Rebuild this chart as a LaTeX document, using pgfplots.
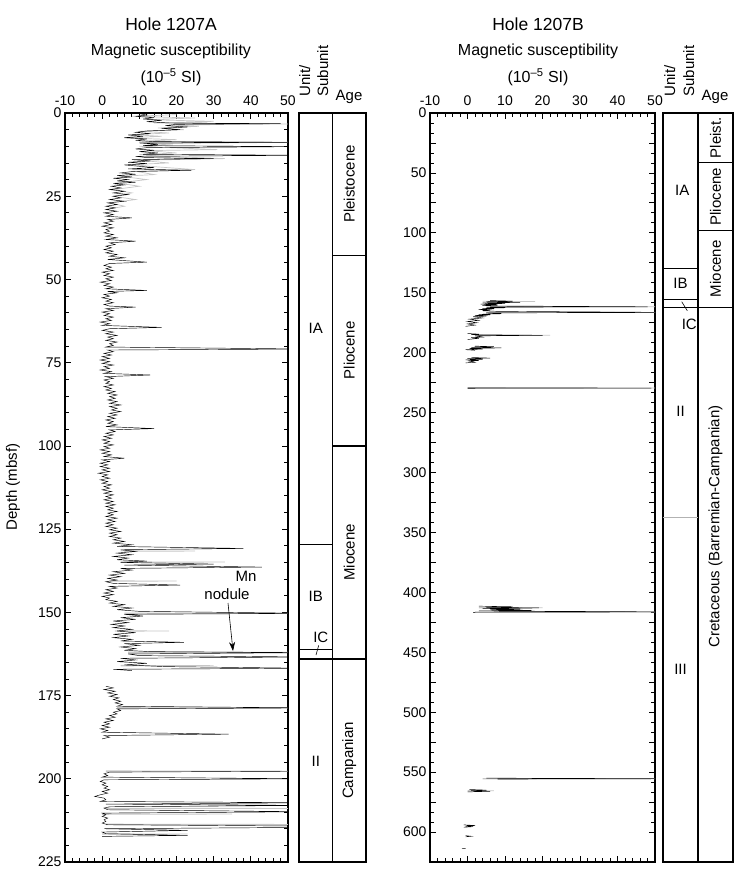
\documentclass[border=0pt]{standalone}
\usepackage{pgfplots}
\pgfplotsset{compat=1.18}
\usepackage{fontspec}
\setmainfont{Liberation Sans}
\usetikzlibrary{arrows.meta}

\pgfplotstableread{
d v
0.2 10
0.6 12
1.0 9
1.4 14
1.8 11
2.2 16
2.6 12
3.0 18
3.2 48
3.4 20
3.8 17
4.2 23
4.6 16
5.0 21
5.4 12
5.8 9
6.2 13
6.6 7
7.0 11
7.4 6
7.8 12
8.2 9
8.6 14
8.8 50
9.0 10
9.4 15
9.8 11
10.1 52
10.4 12
10.8 9
11.2 14
11.6 10
12.0 15
12.4 11
12.7 55
13.0 9
13.4 12
13.7 30
14.0 8
14.4 13
14.8 7
15.2 12
15.6 6
16.0 10
16.4 14
16.8 7
17.2 24
17.6 8
18.0 5
18.4 9
18.8 4
19.2 8
19.6 3
20.0 7
20.4 4
20.8 9
21.2 3
21.6 6
22.0 2.5
22.5 5
23.0 2
23.5 6
24.0 3
24.5 7
25.0 3
25.5 5
26.0 2
26.5 6
27.0 1.5
27.5 4
28.0 1
28.5 3.5
29.0 1
29.5 4
30.0 0.5
30.5 3
31 1
31.5 8
32 1.5
32.5 3
33 0.5
33.5 2.5
34 0
34.5 3
35 1
35.5 2
36 0.5
36.5 3
37 1
37.5 4
38 1
38.5 9
39 2
39.5 3.5
40 1
40.5 2.5
41 0.5
41.5 3
42 1
42.5 4
43 2
43.5 6
44 1.5
44.8 12
45.2 2
45.8 0.5
46.3 2.5
46.8 1
47.3 3
47.8 0
48.3 2
48.8 0.5
49.3 3
49.8 1
50.3 2.5
50.8 -0.5
51.3 2
51.8 0.5
52.3 3
52.8 1
53.3 12
53.6 1.5
54 4
54.5 0.5
55 2
55.5 0
56 2.5
56.5 1
57 3
57.5 0.5
58 2
58.3 9
58.8 1
59.3 3
59.8 0
60.3 2
60.8 0.5
61.3 3
61.8 1
62.3 2.5
62.8 -0.5
63.3 2
63.8 0
64.4 16
64.8 2
65.3 0
65.8 3
66.3 1
66.8 4
67.3 1.5
67.8 3
68.3 1
68.8 4
69.3 2
69.8 3
70.3 1
70.9 55
71.2 1.5
71.7 3
72.2 0.5
72.7 2.5
73.2 0
73.7 2
74.2 -0.5
74.7 2
75.2 0
75.7 3
76.2 0.5
76.7 2
77.2 -0.5
77.7 2.5
78.2 0.5
78.7 13
79.2 1
79.7 3
80.2 0.5
80.7 2
81.2 1
81.7 3
82.2 0.5
82.7 2.5
83.2 1
83.7 3.5
84.2 1.5
84.7 4
85.2 2
85.7 3.5
86.2 1.5
86.7 4
87.2 2
87.7 5
88.2 2
88.7 4
89.2 2.5
89.7 5
90.2 2
90.7 4
91.2 1.5
91.7 3.5
92.2 1
92.7 3
93.2 1.5
93.7 4
94.2 1
94.8 14
95.2 2
95.7 3.5
96.2 1
96.7 3
97.2 0.5
97.7 2.5
98.2 0
98.7 2
99.2 0.5
99.7 3
100.2 0.5
100.7 2
101.2 -0.5
101.7 2
102.2 0
102.7 2.5
103.2 0.5
103.7 6
104.2 0
104.7 2
105.2 -0.5
105.7 1.5
106.2 -0.5
106.7 2
107.2 0
107.7 2
108.2 -1
108.7 1.5
109.2 0
109.7 2
110.2 -0.5
110.7 1.5
111.2 0
111.7 2.5
112.2 0.5
112.7 2
113.2 0
113.7 2.5
114.2 0.5
114.7 3
115.2 1
115.7 2.5
116.2 0.5
116.7 3
117.2 1
117.7 3.5
118.2 1
118.7 3
119.2 1.5
119.7 4
120.2 1.5
120.7 3
121.2 1
121.7 4
122.2 1.5
122.7 3.5
123.2 1
123.7 3
124.2 1
124.7 4
125.2 2
125.7 5
126.2 2
126.7 4
127.2 2
127.7 5
128.2 3
128.7 6
129.2 3
129.7 8
130.2 4
130.8 38
131.2 5
131.7 9
132.2 4
132.7 8
133.2 3
133.7 7
134.2 4
134.6 12
135.0 5
135.5 30
135.8 6
136.4 43
136.8 5
137.3 8
137.8 3
138.3 6
138.8 2
139.3 5
139.8 1.5
140.3 4
140.8 1
141.3 3
141.8 21
142.2 2
142.7 4
143.2 1
143.7 3
144.2 0.5
144.7 3
145.2 0
145.7 2
146.2 1
146.7 4
147.2 2
147.7 6
148.2 3
148.7 8
149.2 4
149.7 10
150.3 55
150.6 6
151.1 11
151.6 5
152.1 9
152.6 3
153.1 7
153.6 2.5
154.1 6
154.6 3
155.1 8
155.6 4
156.1 9
156.6 3
157.1 7
157.6 3
158.1 8
158.6 5
159.0 22
159.4 6
159.9 10
160.4 5
160.9 9
161.4 6
161.8 13
162.1 55
162.5 7
163.0 10
163.4 55
163.8 5
164.3 9
164.8 4
165.3 12
165.8 6
166.3 17
166.8 55
167.1 3
167.5 8
nan nan
172.2 1
172.7 3
173.2 0.5
173.7 3.5
174.2 1.5
174.7 4
175.2 2
175.7 4.5
176.2 3
176.7 5
177.2 3.5
177.7 5.5
178.2 4
178.7 55
179.0 4
179.5 5
180.0 3
180.5 4
181.0 2
181.5 3.5
182.0 1
182.5 3
183.0 0.5
183.5 2
184.0 0
184.5 2
185.0 -0.5
185.5 1.5
186.0 0
186.6 34
187.0 0.5
187.5 2
188.0 0
nan nan
197.7 55
198.0 2
198.5 0.5
199.0 1.5
199.5 0
200.0 55
200.3 0.5
200.8 -0.5
201.3 1
201.8 0
202.3 1.5
202.8 0.5
203.3 2
203.8 0
204.3 1.5
204.8 -0.5
205.3 -2
205.8 0.5
206.3 1
206.8 -0.5
207.2 55
207.6 1
208.0 55
208.4 2
208.8 0.5
209.3 1.5
209.9 55
210.3 0
210.8 1
211.3 0
211.8 1.5
212.3 0.5
212.8 1
213.3 0
213.8 1.5
214.2 55
214.6 55
215.0 0.5
215.5 23
216.0 0
216.5 1
217.0 23
217.3 0
}\holeAblack

\pgfplotstableread{
d v
0.5 20
1.0 8
1.5 25
2.0 12
2.5 30
3.0 14
3.3 50
3.6 18
4.0 26
4.5 15
5.0 22
5.5 10
6.0 18
6.5 8
7.0 16
7.5 6
8.0 20
8.5 10
8.8 52
9.2 12
9.6 19
10.0 10
11.0 31
11.3 12
12.0 20
12.5 10
13.0 16
13.7 33
14.2 10
15.0 18
15.5 8
16.2 15
17.0 25
17.5 9
18.5 14
19.0 5
20.0 12
21.0 4
22.0 10
23.0 3
24.0 8
25.0 3
26.0 9
27.0 2
28.0 6
29.0 1
nan nan
131.5 5
131.6 25
131.7 6
nan nan
134.8 5
134.9 33
135.0 5
nan nan
140.5 2
140.6 20
140.7 2
nan nan
150.2 6
150.3 55
150.4 6
nan nan
155.5 4
155.6 18
155.7 4
nan nan
161.9 7
162.0 55
162.1 7
nan nan
165.9 5
166.0 30
166.1 5
nan nan
178.6 4
178.7 55
178.8 4
nan nan
197.6 1
197.7 55
197.8 1
nan nan
208.8 1
208.9 55
209.0 1
nan nan
210.5 0
210.6 35
210.7 0
nan nan
213.6 1
213.7 55
213.8 1
nan nan
216.5 0
216.6 23
216.7 0
}\holeAgray

\pgfplotstableread{
d v
156.5 6
157 12
157.5 5
158 14
158.5 4
159 10
159.5 3.5
160 8
160.5 4
161 7
161.7 48
162 5
162.5 10
163 4
163.5 7
164 3
164.5 6
165 4
165.5 8
166.4 55
166.8 5
167.5 9
168 3
168.5 6
169 2
169.5 5
170 1.5
171 4
172 0.5
173 3
174 0
175 2.5
176 0
177 2
178 -0.5
nan nan
184 0
184.5 3
185 1
185.5 20
186 2
187 4
187.5 1
188 3
189 0
nan nan
194.5 2
195 7
195.5 1
196 9
196.5 0.5
197 4
197.5 -0.5
198 2
nan nan
204 1
204.5 6
205 0
205.5 4
206 -0.5
206.5 3
207 0.5
208 2
208.5 -0.5
nan nan
229.3 0
229.5 49
229.7 0
nan nan
411.5 3
412 12
412.5 5
413 19
413.5 4
414 14
414.5 6
415 17
415.5 3
416.3 55
416.6 2
417 1.5
nan nan
555 5
555.5 55
555.8 8
nan nan
564.5 0.5
565 5
565.5 1
566 6
566.5 0
nan nan
594 -1
594.5 2
595 -0.5
595.5 1.5
596 -1
nan nan
603 -0.5
603.5 1
604 -0.5
nan nan
613.5 -1.5
613.7 -0.5
}\holeBblack

\pgfplotstableread{
d v
157.0 4
157.3 18
157.6 5
nan nan
161.5 6
161.7 52
161.9 6
nan nan
166.2 5
166.4 55
166.6 5
nan nan
185.3 2
185.5 22
185.7 2
nan nan
229.3 0
229.5 55
229.7 0
nan nan
412.5 3
412.8 20
413.1 3
nan nan
416.1 2
416.3 55
416.5 2
nan nan
555.2 4
555.5 55
555.7 4
nan nan
565.3 0
565.5 7
565.7 0
}\holeBgray

\pgfplotsset{
  magax/.style={scale only axis, anchor=north west, y dir=reverse,
    xmin=-10, xmax=50, xtick={-10,0,...,50},
    xticklabels={-10,0,10,20,30,40,50},
    minor x tick num=4, xticklabel pos=upper,
    tick align=inside, major tick length=6pt, minor tick length=4pt,
    axis line style={line width=1.3pt},
    every tick/.style={black, line width=0.8pt},
    tick label style={font=\fontsize{14}{16}\selectfont},
    xticklabel style={yshift=3.5pt},
    /pgf/number format/assume math mode=true,
    unbounded coords=jump},
  colax/.style={scale only axis, anchor=north west, y dir=reverse,
    xmin=0, xmax=2, ticks=none, clip=false,
    axis line style={line width=1.4pt}}
}

\begin{document}
\begin{tikzpicture}
\useasboundingbox (0pt,0pt) rectangle (746pt,-872pt);

% ---------- Hole 1207A ----------
\node[font=\fontsize{17.5}{20}\selectfont] at (171pt,-24pt) {Hole 1207A};
\node[font=\fontsize{16}{18}\selectfont] at (171pt,-51pt) {Magnetic susceptibility};
\node[font=\fontsize{16}{18}\selectfont] at (171pt,-77pt) {(10\textsuperscript{\textendash 5} SI)};
\node[rotate=90, font=\fontsize{15}{17}\selectfont] at (13pt,-487pt) {Depth (mbsf)};

\begin{axis}[magax, at={(65pt,-113pt)}, width=223pt, height=749pt,
  ymin=0, ymax=225, ytick={0,25,...,225}, minor y tick num=4]
\addplot[gray!45, line width=0.7pt] table[x=v, y=d] {\holeAgray};
\addplot[black, line width=0.45pt] table[x=v, y=d] {\holeAblack};
\end{axis}

\node[font=\fontsize{15}{17}\selectfont] at (246pt,-576pt) {Mn};
\node[font=\fontsize{15}{17}\selectfont] at (227pt,-594pt) {nodule};
\draw[line width=0.6pt, -{Stealth[length=9pt, width=6pt]}] (228pt,-603pt) -- (233pt,-651pt);

\node[rotate=90, anchor=base west, font=\fontsize{15}{17}\selectfont] at (310pt,-100pt) {Unit/};
\node[rotate=90, anchor=base west, font=\fontsize{15}{17}\selectfont] at (328pt,-100pt) {Subunit};
\node[font=\fontsize{15}{17}\selectfont] at (349pt,-97pt) {Age};

\begin{axis}[colax, at={(299pt,-113pt)}, width=67pt, height=749pt, ymin=0, ymax=225]
\draw[line width=1.4pt] (axis cs:1,0) -- (axis cs:1,225);
\draw[line width=1.2pt] (axis cs:0,129.5) -- (axis cs:1,129.5);
\draw[line width=1.2pt] (axis cs:0,161.1) -- (axis cs:1,161.1);
\draw[line width=1.2pt] (axis cs:0,164.0) -- (axis cs:2,164.0);
\draw[line width=1.2pt] (axis cs:1,42.7) -- (axis cs:2,42.7);
\draw[line width=1.2pt] (axis cs:1,100) -- (axis cs:2,100);
\begin{scope}[font=\fontsize{15}{17}\selectfont]
\node at (axis cs:0.5,64.8) {IA};
\node at (axis cs:0.5,145.3) {IB};
\node at (axis cs:0.65,157.5) {IC};
\node at (axis cs:0.5,194.8) {II};
\node[rotate=90] at (axis cs:1.5,21.3) {Pleistocene};
\node[rotate=90] at (axis cs:1.5,71.3) {Pliocene};
\node[rotate=90] at (axis cs:1.5,132) {Miocene};
\node[rotate=90] at (axis cs:1.5,194.5) {Campanian};
\end{scope}
\end{axis}
\draw[line width=0.6pt] (316pt,-655pt) -- (318.7pt,-645.3pt);

% ---------- Hole 1207B ----------
\node[font=\fontsize{17.5}{20}\selectfont] at (538pt,-24pt) {Hole 1207B};
\node[font=\fontsize{16}{18}\selectfont] at (538pt,-51pt) {Magnetic susceptibility};
\node[font=\fontsize{16}{18}\selectfont] at (538pt,-77pt) {(10\textsuperscript{\textendash 5} SI)};

\begin{axis}[magax, at={(430pt,-113pt)}, width=225pt, height=749pt,
  ymin=0, ymax=625, ytick={0,50,...,600}, minor y tick num=5,
  extra y ticks={25,75,...,625}, extra y tick labels={},
  extra y tick style={major tick length=6pt}]
\addplot[gray!45, line width=0.7pt] table[x=v, y=d] {\holeBgray};
\addplot[black, line width=0.45pt] table[x=v, y=d] {\holeBblack};
\end{axis}

\node[rotate=90, anchor=base west, font=\fontsize{15}{17}\selectfont] at (675pt,-100pt) {Unit/};
\node[rotate=90, anchor=base west, font=\fontsize{15}{17}\selectfont] at (694pt,-100pt) {Subunit};
\node[font=\fontsize{15}{17}\selectfont] at (715pt,-97pt) {Age};

\begin{axis}[colax, at={(663pt,-113pt)}, width=70pt, height=749pt, ymin=0, ymax=625]
\draw[line width=1.4pt] (axis cs:1,0) -- (axis cs:1,625);
\draw[line width=1.2pt] (axis cs:0,129.6) -- (axis cs:1,129.6);
\draw[line width=1.2pt] (axis cs:0,155.3) -- (axis cs:1,155.3);
\draw[line width=1.2pt] (axis cs:0,162) -- (axis cs:2,162);
\draw[line width=0.5pt, gray!60] (axis cs:0,337) -- (axis cs:1,337);
\draw[line width=1.2pt] (axis cs:1,41.5) -- (axis cs:2,41.5);
\draw[line width=1.2pt] (axis cs:1,98.2) -- (axis cs:2,98.2);
\begin{scope}[font=\fontsize{15}{17}\selectfont]
\node at (axis cs:0.55,64.8) {IA};
\node at (axis cs:0.5,142.5) {IB};
\node at (axis cs:0.75,176) {IC};
\node at (axis cs:0.5,249) {II};
\node at (axis cs:0.5,464) {III};
\node[rotate=90] at (axis cs:1.5,20.6) {Pleist.};
\node[rotate=90] at (axis cs:1.5,69.8) {Pliocene};
\node[rotate=90] at (axis cs:1.5,130) {Miocene};
\node[rotate=90] at (axis cs:1.5,345) {Cretaceous (Barremian-Campanian)};
\end{scope}
\end{axis}
\draw[line width=0.6pt] (681.7pt,-301.7pt) -- (687.3pt,-310.7pt);

\end{tikzpicture}
\end{document}
